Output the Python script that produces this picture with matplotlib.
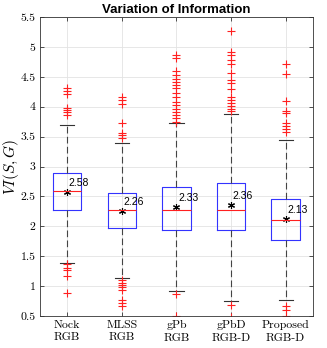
import numpy as np
import matplotlib.pyplot as plt

plt.rcParams['axes.formatter.use_mathtext'] = True
plt.rcParams['mathtext.fontset'] = 'cm'

methods = ['Nock\nRGB', 'MLSS\nRGB', 'gPb\nRGB', 'gPbD\nRGB-D', 'Proposed\nRGB-D']
q1 = [2.27, 1.98, 1.94, 1.93, 1.77]
med = [2.59, 2.28, 2.27, 2.27, 2.10]
q3 = [2.89, 2.55, 2.65, 2.72, 2.46]
whislo = [1.38, 1.14, 0.92, 0.75, 0.77]
whishi = [3.69, 3.40, 3.72, 3.88, 3.45]
means = [2.58, 2.26, 2.33, 2.36, 2.13]
fliers = [
    [4.31, 4.27, 4.22, 3.98, 3.94, 3.91, 3.87, 1.37, 1.30, 1.27, 1.17, 0.88],
    [4.17, 4.11, 4.05, 3.72, 3.56, 3.52, 3.47, 1.10, 1.06, 1.02, 0.98, 0.93, 0.76, 0.71, 0.67],
    [4.86, 4.81, 4.59, 4.53, 4.47, 4.42, 4.36, 4.31, 4.23, 4.17, 4.08, 4.03, 3.97, 3.92,
     3.86, 3.81, 3.75, 0.87, 0.50],
    [5.27, 4.92, 4.86, 4.79, 4.71, 4.57, 4.45, 4.39, 4.29, 4.17, 4.11, 4.06, 4.01, 3.97,
     3.93, 0.68, 0.49],
    [4.71, 4.55, 4.10, 3.93, 3.89, 3.73, 3.68, 3.62, 3.57, 0.67, 0.60, 0.50],
]

stats = []
for i in range(len(methods)):
    stats.append(dict(med=med[i], q1=q1[i], q3=q3[i], whislo=whislo[i],
                      whishi=whishi[i], fliers=fliers[i], label=methods[i]))

fig = plt.figure(figsize=(3.27, 3.48), dpi=100)
ax = fig.add_axes([0.122, 0.092, 0.835, 0.859])

pos = np.arange(1, len(methods) + 1)
ax.bxp(stats, positions=pos, widths=0.52, capwidths=0.26,
       boxprops=dict(color='#3333ff', linewidth=0.8),
       medianprops=dict(color='#ff2020', linewidth=0.8),
       whiskerprops=dict(color='#444444', linestyle=(0, (6, 3)), linewidth=0.8),
       capprops=dict(color='#333333', linewidth=0.8),
       flierprops=dict(marker='+', markeredgecolor='#ff2020', markersize=6,
                       markeredgewidth=0.8, linestyle='none'))

# MATLAB-style asterisk for the means
ax.plot(pos, means, linestyle='none', marker=(6, 2, 0), color='black',
        markersize=5, markeredgewidth=0.8)
for p, m in zip(pos, means):
    ax.text(p + 0.03, m + 0.14, '%.2f' % m, fontsize=7.5, family='Liberation Sans',
            va='center', ha='left')

ax.set_xlim(0.5, 5.5)
ax.set_ylim(0.5, 5.5)
ax.set_yticks(np.arange(0.5, 5.51, 0.5))
ax.set_yticklabels(['%g' % v for v in np.arange(0.5, 5.51, 0.5)], family='cmr10', fontsize=8.5)
ax.set_xticks(pos)
ax.set_xticklabels(methods, family='cmr10', fontsize=8.5, linespacing=1.4)
ax.grid(True, color='#e3e3e3', linewidth=0.6)
ax.set_axisbelow(True)
ax.tick_params(direction='in', length=3, width=0.6, color='#333333', top=True, right=True, pad=3)
for s in ax.spines.values():
    s.set_color('#333333')
    s.set_linewidth(0.6)

ax.set_ylabel('$VI(S,G)$', fontsize=11, labelpad=0)
ax.set_title('Variation of Information', fontsize=9.5, fontweight='bold',
             family='Liberation Sans', pad=3)

fig.savefig('out.png', dpi=100)
